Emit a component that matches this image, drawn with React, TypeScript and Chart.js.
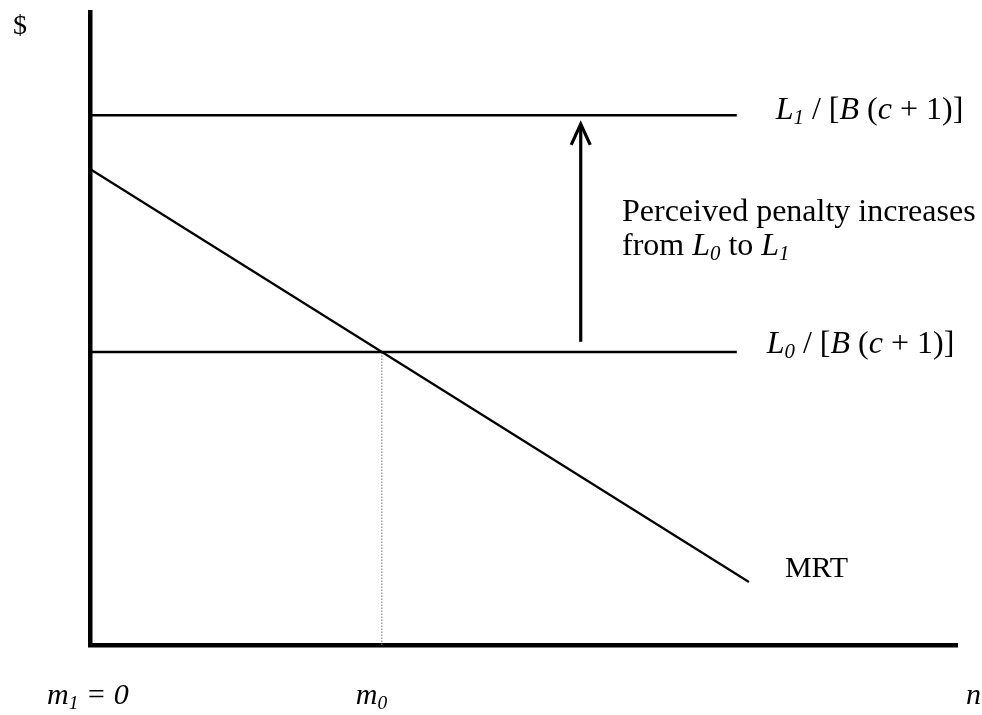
import React, { useEffect, useRef } from "react";
import { Chart, registerables } from "chart.js";

Chart.register(...registerables);

// Conceptual axis ranges (n on x, $ on y)
const X_RANGE = [0, 100];
const Y_RANGE = [0, 100];

// Horizontal penalty levels
const L1_LEVEL = 83.7;
const L0_LEVEL = 46.3;
const LEVEL_X = [0, 74.6];

// MRT line (start and end)
const MRT_X = [0, 76.0];
const MRT_Y = [75.2, 9.95];

// m0: where MRT meets L0
const M0 = 33.66;

// Arrow from L0 up to L1
const ARROW_X = 56.6;
const ARROW_Y = [47.9, 82.3];
const ARROW_HEAD = { halfWidth: 1.1, length: 3.3 };

type Seg = { t: string; i?: boolean; sub?: boolean };

const FONT = '"Liberation Serif", "Times New Roman", serif';

function drawRich(ctx: CanvasRenderingContext2D, segs: Seg[], x: number, y: number, size: number) {
  let cx = x;
  for (const s of segs) {
    const fs = s.sub ? size * 0.65 : size;
    ctx.font = `${s.i ? "italic " : ""}${fs}px ${FONT}`;
    const dy = s.sub ? size * 0.15 : 0;
    ctx.fillText(s.t, cx, y + dy);
    cx += ctx.measureText(s.t).width;
  }
}

const labelPlugin = {
  id: "labels",
  afterDatasetsDraw(chart: any) {
    const ctx: CanvasRenderingContext2D = chart.ctx;
    const xs = chart.scales.x;
    const ys = chart.scales.y;
    ctx.save();
    ctx.fillStyle = "#000";
    ctx.textBaseline = "alphabetic";
    ctx.textAlign = "left";

    const endPx = xs.getPixelForValue(LEVEL_X[1]);
    drawRich(ctx, [{ t: "$" }], 13, 34, 28);
    drawRich(
      ctx,
      [{ t: "L", i: true }, { t: "1", i: true, sub: true }, { t: " / [" }, { t: "B", i: true }, { t: " (" }, { t: "c", i: true }, { t: " + 1)]" }],
      endPx + 39,
      ys.getPixelForValue(L1_LEVEL) + 4,
      32
    );
    drawRich(
      ctx,
      [{ t: "L", i: true }, { t: "0", i: true, sub: true }, { t: " / [" }, { t: "B", i: true }, { t: " (" }, { t: "c", i: true }, { t: " + 1)]" }],
      endPx + 30,
      ys.getPixelForValue(L0_LEVEL) + 1,
      32
    );
    drawRich(ctx, [{ t: "Perceived penalty increases" }], 622, 221, 32);
    drawRich(
      ctx,
      [{ t: "from " }, { t: "L", i: true }, { t: "0", i: true, sub: true }, { t: " to " }, { t: "L", i: true }, { t: "1", i: true, sub: true }],
      622,
      255,
      32
    );
    drawRich(ctx, [{ t: "MRT" }], xs.getPixelForValue(MRT_X[1]) + 36, ys.getPixelForValue(MRT_Y[1]) - 5, 30);

    const baseY = 704;
    drawRich(ctx, [{ t: "m", i: true }, { t: "1", i: true, sub: true }, { t: " = 0", i: true }], 47, baseY, 30);
    drawRich(ctx, [{ t: "m", i: true }, { t: "0", i: true, sub: true }], xs.getPixelForValue(M0) - 26, baseY, 30);
    drawRich(ctx, [{ t: "n", i: true }], 966, baseY, 30);
    ctx.restore();
  },
};

export default function App() {
  const ref = useRef<HTMLCanvasElement>(null);

  useEffect(() => {
    if (!ref.current) return;
    const line = (data: { x: number; y: number }[], width: number, extra: any = {}) => ({
      data,
      borderColor: "#000",
      borderWidth: width,
      pointRadius: 0,
      showLine: true,
      fill: false,
      tension: 0,
      clip: false,
      ...extra,
    });
    const chart = new Chart(ref.current, {
      type: "scatter",
      data: {
        datasets: [
          line([{ x: LEVEL_X[0], y: L1_LEVEL }, { x: LEVEL_X[1], y: L1_LEVEL }], 2.5),
          line([{ x: LEVEL_X[0], y: L0_LEVEL }, { x: LEVEL_X[1], y: L0_LEVEL }], 2.5),
          line([{ x: MRT_X[0], y: MRT_Y[0] }, { x: MRT_X[1], y: MRT_Y[1] }], 2.2),
          line([{ x: M0, y: Y_RANGE[0] }, { x: M0, y: L0_LEVEL }], 1, { borderColor: "#777", borderDash: [1.5, 1.5] }),
          line([{ x: ARROW_X, y: ARROW_Y[0] }, { x: ARROW_X, y: ARROW_Y[1] }], 3.2),
          line(
            [
              { x: ARROW_X - ARROW_HEAD.halfWidth, y: ARROW_Y[1] - ARROW_HEAD.length },
              { x: ARROW_X, y: ARROW_Y[1] },
              { x: ARROW_X + ARROW_HEAD.halfWidth, y: ARROW_Y[1] - ARROW_HEAD.length },
            ],
            3.2,
            { borderJoinStyle: "miter" }
          ),
        ],
      },
      options: {
        responsive: false,
        animation: false,
        events: [],
        layout: { padding: { left: 90, top: 12, right: 25, bottom: 70 } },
        plugins: { legend: { display: false }, tooltip: { enabled: false } },
        scales: {
          x: {
            type: "linear",
            min: X_RANGE[0],
            max: X_RANGE[1],
            ticks: { display: false },
            grid: { display: false, drawTicks: false },
            border: { display: true, color: "#000", width: 4.5 },
          },
          y: {
            type: "linear",
            min: Y_RANGE[0],
            max: Y_RANGE[1],
            ticks: { display: false },
            grid: { display: false, drawTicks: false },
            border: { display: true, color: "#000", width: 4.5 },
          },
        },
      },
      plugins: [labelPlugin],
    });
    return () => chart.destroy();
  }, []);

  return (
    <div style={{ position: "fixed", left: 0, top: 0, width: 982, height: 715, background: "#fff" }}>
      <canvas ref={ref} width={982} height={715} style={{ width: 982, height: 715, display: "block" }} />
    </div>
  );
}
